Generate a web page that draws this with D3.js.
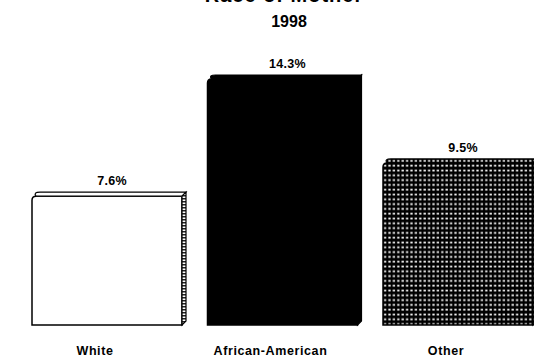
<!DOCTYPE html>
<html>
<head>
<meta charset="utf-8">
<script src="https://cdn.jsdelivr.net/npm/d3@7"></script>
<style>
  html, body { margin: 0; padding: 0; background: #fff; }
  svg { display: block; }
  text { font-family: "Liberation Sans", Arial, Helvetica, sans-serif; font-weight: bold; fill: #000; }
</style>
</head>
<body>
<svg id="chart" width="534" height="361"></svg>
<script>
// Infant mortality rate by race of mother, 1998
const categories = ["White", "African-American", "Other"];
const values = [7.6, 14.3, 9.5];
const valueLabels = ["7.6%", "14.3%", "9.5%"];
const fills = ["white", "black", "dots"];
const titleText = "Race of Mother";
const subtitleText = "1998";

const svg = d3.select("#chart");

const x = d3.scaleBand()
  .domain(categories)
  .range([32, 537])
  .paddingInner(0.1225)
  .paddingOuter(0);

const y = d3.scaleLinear()
  .domain([0, 14.3])
  .range([325, 75]);

const depth = 4;

// fill patterns: dotted screen and the shaded side of the white bar
const defs = svg.append("defs");
const dots = defs.append("pattern")
  .attr("id", "dots")
  .attr("patternUnits", "userSpaceOnUse")
  .attr("width", 4.4).attr("height", 4.8);
dots.append("rect").attr("width", 4.4).attr("height", 4.8).attr("fill", "#000");
dots.append("rect").attr("x", 1.2).attr("y", 1.6).attr("width", 2.2).attr("height", 1.8).attr("fill", "#fff");

const hatch = defs.append("pattern")
  .attr("id", "sidehatch")
  .attr("patternUnits", "userSpaceOnUse")
  .attr("width", 4).attr("height", 3);
hatch.append("rect").attr("width", 4).attr("height", 3).attr("fill", "#fff");
hatch.append("rect").attr("width", 4).attr("height", 1.5).attr("fill", "#222");

function faceFill(kind, face) {
  if (kind === "black") return "#000";
  if (kind === "dots") return "url(#dots)";
  if (face === "side") return "url(#sidehatch)";
  return "#fff";
}

const base = y(0);
const bars = svg.append("g").selectAll("g")
  .data(categories.map((c, i) => ({ c, v: values[i], label: valueLabels[i], kind: fills[i] })))
  .join("g");

bars.each(function (d) {
  const g = d3.select(this);
  const x0 = x(d.c);
  const w = x.bandwidth();
  const top = y(d.v);
  const r = 4;
  // front face with a rounded upper-left corner
  g.append("path")
    .attr("d", `M${x0},${base} L${x0},${top + depth + r} Q${x0},${top + depth} ${x0 + r},${top + depth} L${x0 + w - depth},${top + depth} L${x0 + w - depth},${base} Z`)
    .attr("fill", faceFill(d.kind, "front"))
    .attr("stroke", "#000").attr("stroke-width", 1.5);
  // top face
  g.append("path")
    .attr("d", `M${x0 + r},${top + depth} Q${x0 + 1},${top} ${x0 + depth + r},${top} L${x0 + w},${top} L${x0 + w - depth},${top + depth} Z`)
    .attr("fill", faceFill(d.kind, "top"))
    .attr("stroke", "#000").attr("stroke-width", 1.2);
  // side face
  g.append("path")
    .attr("d", `M${x0 + w - depth},${top + depth} L${x0 + w},${top} L${x0 + w},${base - depth} L${x0 + w - depth},${base} Z`)
    .attr("fill", faceFill(d.kind, "side"))
    .attr("stroke", "#000").attr("stroke-width", 1.2);
  // value label
  g.append("text")
    .attr("x", x0 + w / 2 + 3)
    .attr("y", top - 7)
    .attr("text-anchor", "middle")
    .attr("font-size", 12.5)
    .style("letter-spacing", "0.3px")
    .text(d.label);
});

// category labels
svg.append("g").selectAll("text")
  .data(categories)
  .join("text")
  .attr("x", d => x(d) + x.bandwidth() / 2 - 14)
  .attr("y", 355)
  .attr("text-anchor", "middle")
  .attr("font-size", 12.5)
  .style("letter-spacing", "0.6px")
  .text(d => d);

// titles
svg.append("text")
  .attr("x", 284).attr("y", 2)
  .attr("text-anchor", "middle")
  .attr("font-size", 20)
  .style("letter-spacing", "1px")
  .text(titleText);
svg.append("text")
  .attr("x", 289).attr("y", 27)
  .attr("text-anchor", "middle")
  .attr("font-size", 16)
  .text(subtitleText);
</script>
</body>
</html>
